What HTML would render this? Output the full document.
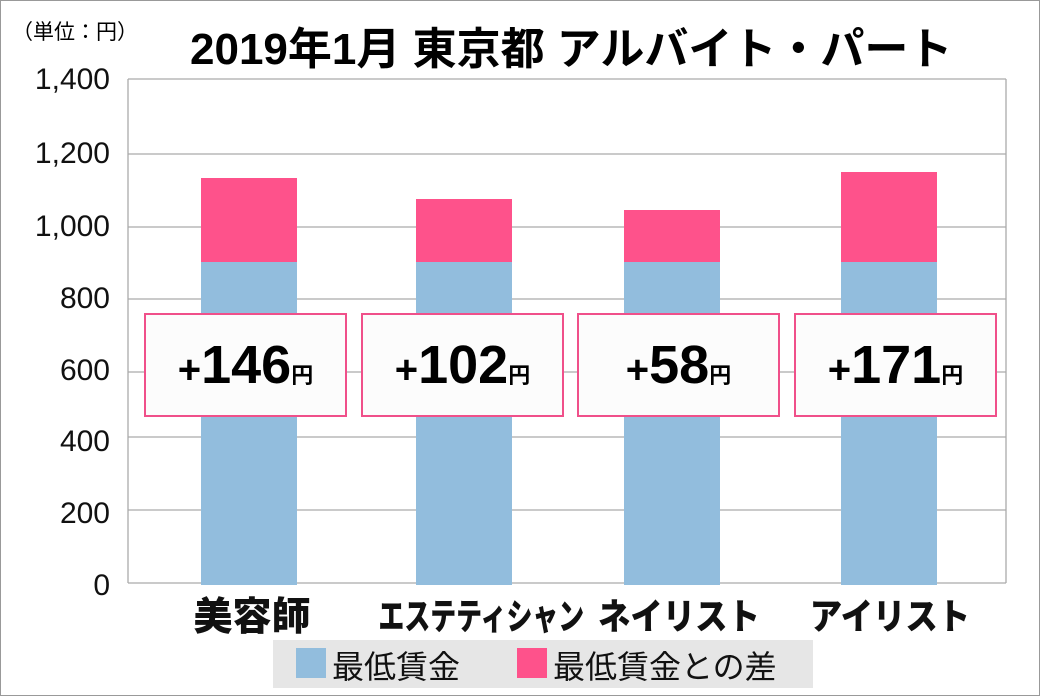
<!DOCTYPE html>
<html><head><meta charset="utf-8"><style>
body{margin:0;width:1040px;height:696px;overflow:hidden;background:#fff;font-family:"Liberation Sans","Noto Sans CJK JP",sans-serif}
.a{position:absolute}
.yl{position:absolute;right:930px;font-size:30px;color:#111;line-height:1}
.box{position:absolute;top:313px;height:100px;width:199px;border:2px solid #f0508a;background:#fcfcfc;text-align:center;font-weight:bold;line-height:100px;font-size:54px;color:#000}
.box .p{font-size:40px}
.box .y{font-size:22px}
.cat{position:absolute;top:588px;font-weight:900;font-size:36px;text-align:center;width:260px;color:#111;white-space:nowrap}
</style></head><body>
<div class="a" style="left:0;top:0;width:1038px;height:694px;border:1px solid #999"></div>
<div class="a" style="left:12px;top:16px;font-size:21px;">（単位：円）</div>
<div class="a" style="left:190px;top:13px;font-size:44px;font-weight:bold;white-space:nowrap">2019年1月 東京都 アルバイト・パート</div>
<svg class="a" style="left:0;top:0" width="1040" height="696">
<g stroke="#aaa" stroke-width="1.3">
<line x1="128" y1="79" x2="1006" y2="79"/>
<line x1="128" y1="154" x2="1006" y2="154"/>
<line x1="128" y1="227" x2="1006" y2="227"/>
<line x1="128" y1="299" x2="1006" y2="299"/>
<line x1="128" y1="372" x2="1006" y2="372"/>
<line x1="128" y1="437" x2="1006" y2="437"/>
<line x1="128" y1="510" x2="1006" y2="510"/>
<line x1="128" y1="583" x2="1006" y2="583"/>
<line x1="128" y1="79" x2="128" y2="583"/>
<line x1="1006" y1="79" x2="1006" y2="583"/>
</g>
<g fill="#92bddd">
<rect x="201" y="262" width="96" height="323"/>
<rect x="416" y="262" width="96" height="323"/>
<rect x="624" y="262" width="96" height="323"/>
<rect x="841" y="262" width="96" height="323"/>
</g>
<g fill="#fe528b">
<rect x="201" y="178" width="96" height="84"/>
<rect x="416" y="199" width="96" height="63"/>
<rect x="624" y="210" width="96" height="52"/>
<rect x="841" y="172" width="96" height="90"/>
</g>
</svg>
<div class="yl" style="top:65px">1,400</div>
<div class="yl" style="top:139px">1,200</div>
<div class="yl" style="top:212px">1,000</div>
<div class="yl" style="top:284px">800</div>
<div class="yl" style="top:356px">600</div>
<div class="yl" style="top:427px">400</div>
<div class="yl" style="top:499px">200</div>
<div class="yl" style="top:571px">0</div>
<div class="box" style="left:144px"><span class="p">+</span>146<span class="y">円</span></div>
<div class="box" style="left:361px"><span class="p">+</span>102<span class="y">円</span></div>
<div class="box" style="left:577px"><span class="p">+</span>58<span class="y">円</span></div>
<div class="box" style="left:794px"><span class="p">+</span>171<span class="y">円</span></div>
<div class="cat" style="left:122px;font-size:39px;top:586px">美容師</div>
<div class="cat" style="left:342px;transform:scaleX(0.72)">エステティシャン</div>
<div class="cat" style="left:549px;transform:scaleX(0.9)">ネイリスト</div>
<div class="cat" style="left:760px;transform:scaleX(0.9)">アイリスト</div>
<div class="a" style="left:273px;top:640px;width:540px;height:48px;background:#e6e6e6"></div>
<div class="a" style="left:296px;top:648px;width:30px;height:30px;background:#92bddd"></div>
<div class="a" style="left:332px;top:642px;font-size:32px;color:#111">最低賃金</div>
<div class="a" style="left:517px;top:648px;width:30px;height:30px;background:#fe528b"></div>
<div class="a" style="left:553px;top:642px;font-size:32px;color:#111">最低賃金との差</div>
</body></html>
